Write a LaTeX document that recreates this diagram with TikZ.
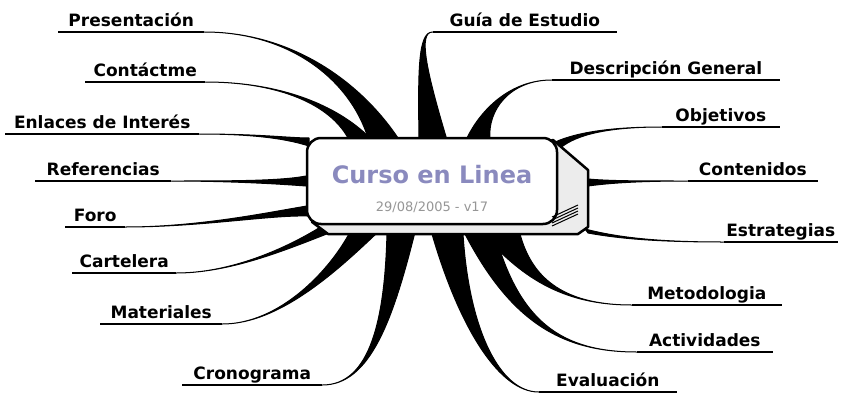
\documentclass[tikz,border=0pt]{standalone}
\usepackage{fontspec}
\setmainfont{DejaVu Sans}
\usetikzlibrary{calc}

\definecolor{lavender}{RGB}{138,138,190}
\definecolor{dategray}{RGB}{150,150,150}
\definecolor{sideface}{RGB}{236,236,236}

\tikzset{
    topic/.style={font=\fontsize{17}{20}\selectfont\bfseries, minimum width=#1,
        inner xsep=0pt, inner ysep=1pt, text height=12pt, text depth=4pt},
    hub/.style={draw, fill=white, line width=2.5pt, rounded corners=14pt,
        minimum width=250pt, minimum height=86pt},
    twig/.style={fill=black, draw=black, line width=1pt, line join=round}
}

% spike from a topic to the box: start, controls, base point, controls, base point
\newcommand{\twig}[6]{\filldraw[twig] (#1) .. controls (#2) and (#3) .. (#4) -- (#6) .. controls (#5) and (#2) .. (#1) -- cycle;}

\begin{document}
\begin{tikzpicture}[x=1pt,y=-1pt]
    \useasboundingbox (0,0) rectangle (842,396);

    % left topics
    \node[topic=146pt, anchor=south west] (pres) at (58,32) {Presentación};
    \node[topic=120pt, anchor=south west] (cont) at (85,82) {Contáctme};
    \node[topic=194pt, anchor=south west] (enl) at (5,134) {Enlaces de Interés};
    \node[topic=136pt, anchor=south west] (refs) at (35,181) {Referencias};
    \node[topic=60pt, anchor=south west] (foro) at (65,227) {Foro};
    \node[topic=104pt, anchor=south west] (cart) at (72,273) {Cartelera};
    \node[topic=122pt, anchor=south west] (mat) at (100,324) {Materiales};
    \node[topic=140pt, anchor=south west] (cron) at (182,385) {Cronograma};

    % right topics
    \node[topic=184pt, anchor=south east] (guia) at (617,32) {Guía de Estudio};
    \node[topic=228pt, anchor=south east] (desc) at (780,80) {Descripción General};
    \node[topic=118pt, anchor=south east] (obj) at (780,127) {Objetivos};
    \node[topic=130pt, anchor=south east] (conten) at (818,181) {Contenidos};
    \node[topic=114pt, anchor=south east] (estr) at (838,242) {Estrategias};
    \node[topic=150pt, anchor=south east] (metod) at (782,305) {Metodologia};
    \node[topic=136pt, anchor=south east] (activ) at (773,352) {Actividades};
    \node[topic=138pt, anchor=south east] (eval) at (677,392) {Evaluación};

    \foreach \n in {pres,cont,enl,refs,foro,cart,mat,cron,guia,desc,obj,conten,estr,metod,activ,eval}
        \draw[line width=1.2pt] (\n.south west) -- (\n.south east);

    % spikes
    \twig{pres.south east}{290,32}{350,80}{368,138}{359,80}{398,138}
    \twig{cont.south east}{280,82}{330,105}{348,138}{337,105}{370,138}
    \twig{enl.south east}{260,134}{290,138}{309,138}{290,140}{309,146}
    \twig{refs.south east}{230,181}{280,181}{306,176}{280,184}{306,186}
    \twig{foro.south east}{200,227}{270,212}{307,206}{270,215}{307,216}
    \twig{cart.south east}{240,273}{300,240}{322,226}{308,240}{348,226}
    \twig{mat.south east}{280,324}{330,270}{350,232}{338,270}{378,232}
    \twig{cron.south east}{370,385}{385,320}{387,232}{393,320}{415,232}
    \twig{guia.south west}{418,32}{418,70}{419,140}{426,70}{447,140}
    \twig{desc.south west}{510,80}{480,110}{466,140}{487,110}{490,140}
    \twig{obj.south west}{600,127}{570,135}{553,143}{572,137}{558,150}
    \twig{conten.south west}{640,181}{610,181}{588,179}{610,183}{588,186}
    \twig{estr.south west}{660,242}{620,238}{585,229}{621,239}{588,233}
    \twig{metod.south west}{560,305}{520,275}{483,234}{531,275}{520,234}
    \twig{activ.south west}{560,352}{510,320}{465,234}{519,320}{495,234}
    \twig{eval.south west}{500,392}{460,330}{432,234}{469,330}{463,234}

    % box
    \filldraw[fill=sideface, line width=2.5pt, line join=round]
        (553,140) -- (588,170) -- (588,227) -- (578,234) -- (328,234) -- (312,222) -- cycle;
    \node[hub] (curso) at (432,181) {};
    \foreach \k in {0,3,6,9}
        \draw[line width=1pt] (552,226-\k) -- (578,214-\k);
    \node[font=\fontsize{24}{28}\selectfont\bfseries, text=lavender] (titulo) at (432,175) {Curso en Linea};
    \node[font=\fontsize{13}{15}\selectfont, text=dategray] (fecha) at (432,207) {29/08/2005 - v17};
\end{tikzpicture}
\end{document}
